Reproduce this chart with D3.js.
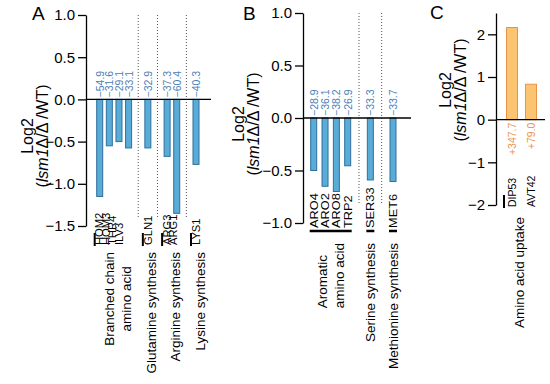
<!DOCTYPE html>
<html>
<head>
<meta charset="utf-8">
<script src="https://cdn.jsdelivr.net/npm/d3@7"></script>
<style>
body { margin: 0; background: #fff; }
text { font-family: Arial, "Liberation Sans", sans-serif; }
</style>
</head>
<body>
<div id="chart"></div>
<script>
// ---- data ----
// panel A
var genesA = ["HOM2", "HOM3", "THR4", "ILV3", "GLN1", "ARG3", "ARG1", "LYS1"];
var valuesA = [-1.15, -0.55, -0.50, -0.575, -0.575, -0.675, -1.35, -0.77];
var pctA = ["−54.9", "−31.6", "−29.1", "−33.1", "−32.9", "−37.3", "−60.4", "−40.3"];
var groupsA = [["Branched chain", "amino acid"], ["Glutamine synthesis"], ["Arginine synthesis"], ["Lysine synthesis"]];
var groupSizesA = [4, 1, 2, 1];
var ticksA = [1.0, 0.5, 0.0, -0.5, -1.0, -1.5];

// panel B
var genesB = ["ARO4", "ARO2", "ARO8", "TRP2", "SER33", "MET6"];
var valuesB = [-0.50, -0.65, -0.70, -0.455, -0.59, -0.605];
var pctB = ["−28.9", "−36.1", "−38.2", "−26.9", "−33.3", "−33.7"];
var groupsB = [["Aromatic", "amino acid"], ["Serine synthesis"], ["Methionine synthesis"]];
var groupSizesB = [4, 1, 1];
var ticksB = [1.0, 0.5, 0.0, -0.5, -1.0];

// panel C
var genesC = ["DIP53", "AVT42"];
var valuesC = [2.16, 0.83];
var pctC = ["+347.7", "+79.0"];
var groupsC = [["Amino acid uptake"]];
var groupSizesC = [2];
var ticksC = [2, 1, 0, -1, -2];

var width = 550, height = 384;

var svg = d3.select("#chart").append("svg")
    .attr("width", width)
    .attr("height", height);

function panel(o) {
    var g = svg.append("g");
    var y = d3.scaleLinear().domain(o.domain).range(o.yRange);

    // slot positions: one empty slot between groups
    var slots = [], seps = [], grp = [], s = 0;
    o.sizes.forEach(function(n, k) {
        if (k > 0) { seps.push(s); s++; }
        for (var j = 0; j < n; j++) { slots.push(s); grp.push(k); s++; }
    });
    var x = d3.scaleLinear().domain([0, slots[slots.length - 1] || 1]).range([o.x0, o.x1]);

    // dotted separators
    g.selectAll(".sep").data(seps).enter().append("line")
        .attr("x1", d => x(d)).attr("x2", d => x(d))
        .attr("y1", o.yRange[1]).attr("y2", o.sepBottom)
        .attr("stroke", "#555").attr("stroke-width", 1)
        .attr("stroke-dasharray", "1,2");

    // axis
    var axis = d3.axisLeft(y).tickValues(o.ticks).tickSize(8).tickSizeOuter(0)
        .tickPadding(3).tickFormat(o.fmt);
    var ax = g.append("g").attr("transform", `translate(${o.axisX},0)`).call(axis);
    ax.selectAll("path,line").attr("stroke", "#000").attr("stroke-width", 1.3);
    ax.selectAll("text").attr("font-size", 15).attr("fill", "#000")
        .attr("font-family", "Arial, 'Liberation Sans', sans-serif");

    // bars
    g.selectAll(".bar").data(o.values).enter().append("rect")
        .attr("x", (d, i) => x(slots[i]) - o.bw / 2)
        .attr("y", d => Math.min(y(d), y(0)))
        .attr("width", o.bw)
        .attr("height", d => Math.abs(y(d) - y(0)))
        .attr("fill", o.fill).attr("stroke", o.stroke).attr("stroke-width", 1);

    // zero line
    g.append("line")
        .attr("x1", o.axisX).attr("x2", o.zeroEnd)
        .attr("y1", y(0)).attr("y2", y(0))
        .attr("stroke", "#000").attr("stroke-width", 1.3);

    // percentage labels
    g.selectAll(".pct").data(o.pct).enter().append("text")
        .attr("transform", (d, i) => {
            var v = o.values[i];
            var yy = v < 0 ? y(0) - 2 : y(0) + 3;
            return `translate(${x(slots[i])},${yy}) rotate(-90)`;
        })
        .attr("text-anchor", (d, i) => o.values[i] < 0 ? "start" : "end")
        .attr("dominant-baseline", "central")
        .attr("font-size", 10.5)
        .attr("fill", o.pctColor)
        .text(d => d);

    // gene label x positions
    var firstIdx = o.sizes.map((n, k) => grp.indexOf(k));
    var gx = slots.map(function(sl, i) {
        if (o.packed) return x(slots[firstIdx[grp[i]]]) + (i - firstIdx[grp[i]]) * o.packed;
        return x(sl);
    });

    g.selectAll(".gene").data(o.genes).enter().append("text")
        .attr("transform", (d, i) => `translate(${gx[i]},${o.geneY}) rotate(-90) scale(${o.geneStretch},1)`)
        .attr("text-anchor", "start")
        .attr("dominant-baseline", "central")
        .attr("font-size", o.geneFont)
        .attr("fill", "#000")
        .text(d => d);

    // group brackets
    o.sizes.forEach(function(n, k) {
        var a = gx[firstIdx[k]], b = gx[firstIdx[k] + n - 1];
        if (o.bracket === "tick") {
            g.append("line")
                .attr("x1", a - o.tickOff).attr("x2", a - o.tickOff)
                .attr("y1", o.geneY - 12).attr("y2", o.geneY + 1)
                .attr("stroke", "#000").attr("stroke-width", 2);
        } else {
            g.append("line")
                .attr("x1", a - 4).attr("x2", b + 4)
                .attr("y1", o.geneY + 3).attr("y2", o.geneY + 3)
                .attr("stroke", "#000").attr("stroke-width", 2.5);
        }
    });

    // group labels
    o.groups.forEach(function(lines, k) {
        var n = o.sizes[k];
        var cx = (x(slots[firstIdx[k]]) + x(slots[firstIdx[k] + n - 1])) / 2 + (o.grpShift || 0);
        if (lines.length === 1) {
            g.append("text")
                .attr("transform", `translate(${cx},${o.grpTop}) rotate(-90)`)
                .attr("text-anchor", "end").attr("dominant-baseline", "central")
                .attr("font-size", 13.5).attr("fill", "#000")
                .text(lines[0]);
        } else {
            var ts = lines.map(function(t, j) {
                return g.append("text")
                    .attr("dominant-baseline", "central")
                    .attr("font-size", 13.5).attr("fill", "#000")
                    .text(t);
            });
            var L = d3.max(ts, t => t.node().getComputedTextLength());
            ts.forEach(function(t, j) {
                var xx = cx + (j === 0 ? -8.5 : 8.5);
                if (o.grpAlign === "middle") {
                    t.attr("text-anchor", "middle")
                        .attr("transform", `translate(${xx},${o.grpTop + L / 2}) rotate(-90)`);
                } else {
                    t.attr("text-anchor", "start")
                        .attr("transform", `translate(${xx},${o.grpTop + L}) rotate(-90)`);
                }
            });
        }
    });

    // y title
    g.append("text")
        .attr("transform", `translate(${o.titleX},${o.titleY}) rotate(-90)`)
        .attr("text-anchor", "middle").attr("dominant-baseline", "central")
        .attr("font-size", 16).attr("fill", "#000")
        .text("Log2");
    var t2 = g.append("text")
        .attr("transform", `translate(${o.titleX + 15},${o.titleY}) rotate(-90)`)
        .attr("text-anchor", "middle").attr("dominant-baseline", "central")
        .attr("font-size", 16).attr("fill", "#000");
    t2.append("tspan").text("(");
    t2.append("tspan").attr("font-style", "italic").text("lsm1");
    t2.append("tspan").text("Δ/Δ /WT)");

    // panel letter
    g.append("text")
        .attr("x", o.letterX).attr("y", o.letterY)
        .attr("font-size", 19).attr("fill", "#000")
        .text(o.letter);
}

var blueFill = "#5aacd8", blueStroke = "#2f6f9c", bluePct = "#4a80b6";

panel({
    letter: "A", letterX: 32, letterY: 20,
    genes: genesA, values: valuesA, pct: pctA, groups: groupsA, sizes: groupSizesA,
    ticks: ticksA, fmt: d3.format(".1f"),
    domain: [-1.5, 1.0], yRange: [226, 15], axisX: 86,
    x0: 99.7, x1: 196, bw: 6, zeroEnd: 211, sepBottom: 218,
    fill: blueFill, stroke: blueStroke, pctColor: bluePct,
    packed: 6.4, geneY: 245, geneFont: 10, geneStretch: 1.12, bracket: "tick", tickOff: 5,
    grpTop: 252, grpShift: 4, grpAlign: "middle",
    titleX: 27, titleY: 136
});

panel({
    letter: "B", letterX: 243, letterY: 20,
    genes: genesB, values: valuesB, pct: pctB, groups: groupsB, sizes: groupSizesB,
    ticks: ticksB, fmt: d3.format(".1f"),
    domain: [-1.0, 1.0], yRange: [223, 13], axisX: 303,
    x0: 313.7, x1: 393, bw: 6, zeroEnd: 411, sepBottom: 205,
    fill: blueFill, stroke: blueStroke, pctColor: bluePct,
    packed: 0, geneY: 228, geneFont: 10.5, geneStretch: 1.22, bracket: "line",
    grpTop: 243, grpShift: 0, grpAlign: "start",
    titleX: 238, titleY: 124
});

panel({
    letter: "C", letterX: 430, letterY: 19,
    genes: genesC, values: valuesC, pct: pctC, groups: groupsC, sizes: groupSizesC,
    ticks: ticksC, fmt: d3.format("d"),
    domain: [-2, 2.5], yRange: [205, 13], axisX: 496,
    x0: 512, x1: 531, bw: 11, zeroEnd: 545, sepBottom: 0,
    fill: "#fbc470", stroke: "#e8954c", pctColor: "#ea9450",
    packed: 0, geneY: 207, geneFont: 10.5, geneStretch: 1, bracket: "tick", tickOff: 8,
    grpTop: 217, grpShift: -2, grpAlign: "start",
    titleX: 445, titleY: 90
});
</script>
</body>
</html>
